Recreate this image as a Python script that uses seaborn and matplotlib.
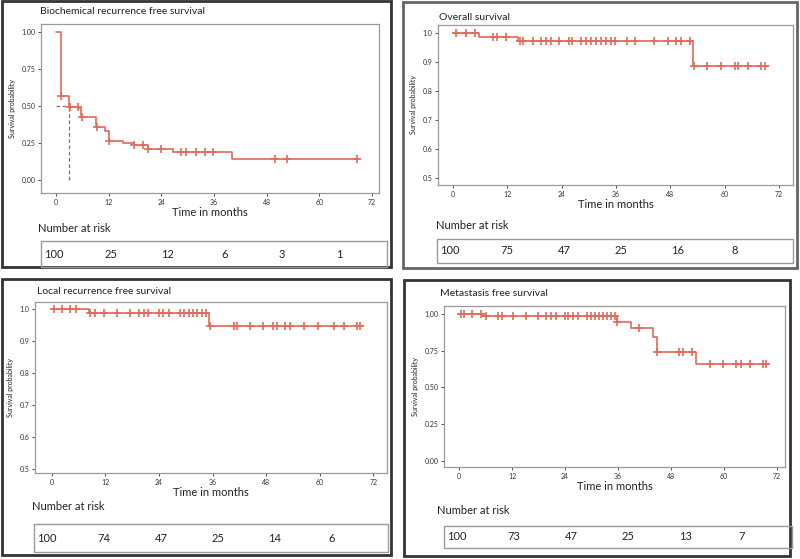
import numpy as np
import pandas as pd
import matplotlib
matplotlib.use("Agg")
import matplotlib.pyplot as plt
from matplotlib.patches import Rectangle
import seaborn as sns

sns.set_style("white")
plt.rcParams['font.family'] = ['Lato', 'DejaVu Sans']

# ---- data ----
# biochemical recurrence free survival
bcr_t = [0, 1.1, 3.0, 5.1, 5.8, 9.1, 11.2, 12.1, 15.2, 17.8, 20.9, 26.7, 40.0, 68.9]
bcr_s = [1.0, 0.569, 0.494, 0.483, 0.427, 0.36, 0.333, 0.265, 0.252, 0.236, 0.207, 0.187, 0.139, 0.139]
bcr_c = [1.2, 3.2, 5.0, 5.9, 9.3, 12.2, 17.8, 19.9, 21.0, 24.0, 28.6, 29.7, 32.0, 33.9, 35.8, 49.9, 52.7, 68.7]
bcr_median = 3.0
bcr_risk = [100, 25, 12, 6, 3, 1]

# overall survival
os_t = [0, 5.7, 14.3, 53.1, 69.6]
os_s = [1.0, 0.988, 0.972, 0.885, 0.885]
os_c = [0.7, 2.8, 4.8, 8.8, 9.7, 11.7, 14.7, 15.5, 17.6, 19.4, 20.5, 21.6, 23.5, 25.6, 26.4,
        28.2, 29.3, 30.4, 31.5, 32.6, 33.7, 34.8, 35.7, 38.4, 40.3, 44.5, 47.4, 49.3, 50.4,
        52.4, 53.2, 56.1, 59.2, 62.3, 63.0, 65.1, 68.1, 68.9]
os_risk = [100, 75, 47, 25, 16, 8]

# local recurrence free survival
lr_t = [0, 8.4, 35.3, 69.8]
lr_s = [1.0, 0.9875, 0.948, 0.948]
lr_c = [0.4, 2.2, 4.1, 5.4, 8.6, 9.7, 11.6, 14.6, 17.5, 19.4, 20.6, 21.5, 23.9, 25.0, 26.3,
        28.6, 29.7, 30.8, 31.6, 32.5, 33.6, 34.6, 35.4, 40.7, 41.4, 44.4, 47.4, 49.5, 50.4,
        52.3, 53.4, 56.4, 59.6, 63.3, 65.4, 68.4, 69.1]
lr_risk = [100, 74, 47, 25, 14, 6]

# metastasis free survival
mf_t = [0, 5.5, 35.7, 39.0, 44.0, 44.8, 53.7, 70.1]
mf_s = [1.0, 0.983, 0.948, 0.902, 0.845, 0.743, 0.657, 0.657]
mf_c = [0.5, 1.1, 3.0, 4.9, 6.1, 8.9, 9.8, 12.3, 15.1, 17.9, 19.8, 20.9, 21.9, 24.0, 24.7,
        25.9, 27.0, 28.9, 29.8, 30.8, 31.8, 32.7, 33.4, 34.3, 35.2, 35.8, 40.8, 44.9, 49.7,
        50.8, 52.7, 56.9, 59.8, 62.8, 63.8, 65.8, 68.8, 69.5]
mf_risk = [100, 73, 47, 25, 13, 7]

titles = ["Biochemical recurrence free survival", "Overall survival",
          "Local recurrence free survival", "Metastasis free survival"]
xticks = [0, 12, 24, 36, 48, 60, 72]

RED = "#e26a5a"
W, H = 800, 559

fig = plt.figure(figsize=(8, 5.59), dpi=100)


def fx(x):
    return x / W


def fy(y):
    return 1 - y / H


def frame(x0, y0, x1, y1, color, lw):
    fig.patches.append(Rectangle((fx(x0), fy(y1)), fx(x1) - fx(x0), fy(y0) - fy(y1),
                                 transform=fig.transFigure, fill=False,
                                 edgecolor=color, linewidth=lw))


def panel(t, s, c, risk, title, yticks, yfmt, xlim, ylim, box, outer, title_xy,
          nar_xy, rbox, median=None, border="#444444"):
    frame(*outer, border, 2.0)
    x0, y0, x1, y1 = box
    ax = fig.add_axes([fx(x0), fy(y1), fx(x1) - fx(x0), fy(y0) - fy(y1)])
    df = pd.DataFrame({"t": t, "s": s})
    sns.lineplot(data=df, x="t", y="s", drawstyle="steps-post", sort=False,
                 estimator=None, color=RED, linewidth=1.2, ax=ax)
    # censor marks sit on the curve
    idx = np.searchsorted(t, c, side="right") - 1
    cs = pd.DataFrame({"t": c, "s": np.array(s)[idx]})
    sns.scatterplot(data=cs, x="t", y="s", marker="+", s=38, color=RED,
                    linewidth=1.2, ax=ax, zorder=3)
    if median is not None:
        ax.plot([0, median], [0.5, 0.5], ls=(0, (3, 2)), color="#777777", lw=0.9)
        ax.plot([median, median], [0, 0.5], ls=(0, (3, 2)), color="#777777", lw=0.9)
    ax.set_xlim(*xlim)
    ax.set_ylim(*ylim)
    ax.set_xticks(xticks)
    ax.set_yticks(yticks)
    ax.set_yticklabels([yfmt % v for v in yticks])
    ax.tick_params(axis="both", labelsize=5, colors="#333333", length=2, width=0.6,
                   pad=2, direction="out", left=True, bottom=True)
    for sp in ax.spines.values():
        sp.set_color("#9a9a9a")
        sp.set_linewidth(0.9)
    ax.set_xlabel("Time in months", fontsize=8, labelpad=1, color="#222222")
    ax.set_ylabel("Survival probability", fontsize=5, labelpad=4, color="#222222")
    fig.text(fx(title_xy[0]), fy(title_xy[1]), title, fontsize=7.5, va="center",
             ha="left", color="#222222")
    fig.text(fx(nar_xy[0]), fy(nar_xy[1]), "Number at risk", fontsize=8,
             va="center", ha="left", color="#222222")
    frame(*rbox, "#9a9a9a", 1.0)
    ymid = (rbox[1] + rbox[3]) / 2
    for i, n in enumerate(risk):
        fig.text(fx(rbox[0] + 13 + 57 * i), fy(ymid), str(n), fontsize=8,
                 ha="center", va="center", color="#222222")
    return ax


panel(bcr_t, bcr_s, bcr_c, bcr_risk, titles[0], [0, 0.25, 0.5, 0.75, 1.0], "%.2f",
      (-3.4, 73.6), (-0.088, 1.054), (41, 24, 379, 193), (2, 1, 391, 267),
      (40, 12), (38, 229), (41, 241, 387, 267), median=bcr_median, border="#333333")
panel(os_t, os_s, os_c, os_risk, titles[1], [0.5, 0.6, 0.7, 0.8, 0.9, 1.0], "%.1f",
      (-3.3, 75.1), (0.476, 1.028), (438, 25, 793, 185), (403, 2, 797, 268),
      (439, 18), (436, 225), (437, 239, 793, 263), border="#666666")
panel(lr_t, lr_s, lr_c, lr_risk, titles[2], [0.5, 0.6, 0.7, 0.8, 0.9, 1.0], "%.1f",
      (-3.8, 75.1), (0.4875, 1.022), (35, 302, 387, 473), (2, 279, 391, 555),
      (37, 291), (32, 506), (34, 524, 388, 552), border="#333333")
panel(mf_t, mf_s, mf_c, mf_risk, titles[3], [0, 0.25, 0.5, 0.75, 1.0], "%.2f",
      (-3.4, 73.8), (-0.041, 1.054), (444, 306, 785, 467), (404, 280, 790, 556),
      (440, 294), (437, 511), (444, 526, 792, 548), border="#333333")

fig.savefig("out.png", dpi=100)
